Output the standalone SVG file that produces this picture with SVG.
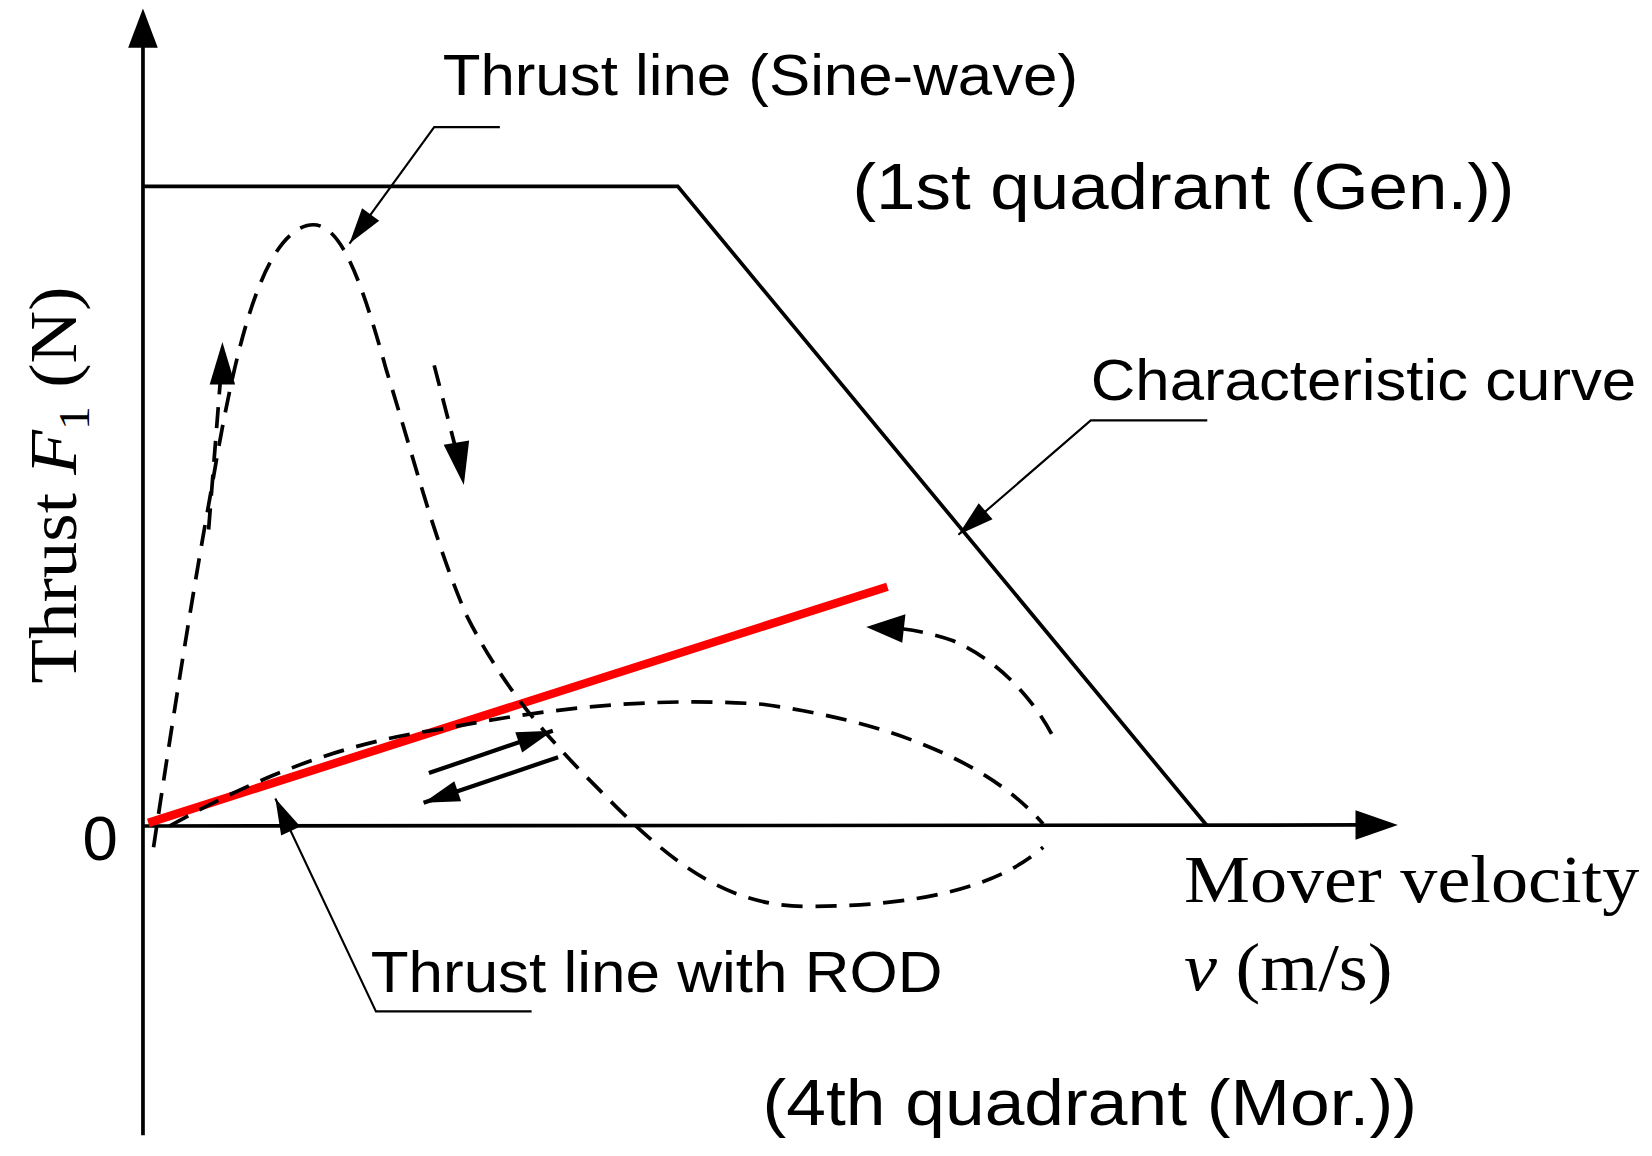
<svg xmlns="http://www.w3.org/2000/svg" width="1652" height="1156" viewBox="0 0 1652 1156">
<style>
.s{font-family:"Liberation Sans",Arial,sans-serif;fill:#000}
.r{font-family:"Liberation Serif","Times New Roman",serif;fill:#000}
.ln{fill:none;stroke:#000;stroke-width:3.5}
.th{fill:none;stroke:#000;stroke-width:2}
.sa{fill:none;stroke:#000;stroke-width:4}
.d{fill:none;stroke:#000;stroke-width:3.5;stroke-dasharray:20 12}
</style>
<defs>
<marker id="b" markerWidth="40" markerHeight="30" refX="34" refY="10" markerUnits="userSpaceOnUse" orient="auto" overflow="visible"><path d="M0,0L34,10L0,20z" fill="#000"/></marker>
</defs>
<rect width="1652" height="1156" fill="#fff"/>
<g transform="scale(1.059)">
<g id="axes">
<line class="ln" x1="135" y1="1072" x2="135" y2="40"/>
<path d="M135,8L121,45L149,45z"/>
<line class="ln" x1="135" y1="780" x2="1285" y2="779"/>
<path d="M1320,779L1280,765L1280,793z"/>
</g>
<g id="curves">
<path class="ln" d="M135,176L640,176L1140,780"/>
<line x1="140" y1="777" x2="838" y2="554" stroke="#f00" stroke-width="8"/>
<path class="d" d="M145,800C160,700 180,570 200,460C220,340 245,225 290,213C320,205 340,260 365,350C390,430 410,510 440,580C480,660 530,710 580,760C640,820 690,855 760,856C860,856 940,840 985,800"/>
<path class="d" d="M160,780C250,730 330,700 420,688C520,668 620,658 720,665C830,680 930,715 985,778"/>
<path class="d" d="M993,693C975,660 945,625 900,605C880,598 860,594 835,592"/>
<path d="M818,592L855,580L852,607z"/>
<path class="d" d="M197,500L208,360"/>
<path d="M210,323L198,363L222,363z"/>
<path class="d" d="M410,345L432,430"/>
<path d="M438,458L419,420L443,416z"/>
<line class="sa" x1="405" y1="730" x2="522" y2="690" marker-end="url(#b)"/>
<line class="sa" x1="527" y1="715" x2="400" y2="758" marker-end="url(#b)"/>
</g>
<g id="leaders">
<path class="th" d="M472,120L410,120L330,230" marker-end="url(#b)"/>
<path class="th" d="M1140,397L1030,397L905,505" marker-end="url(#b)"/>
<path class="th" d="M502,955L355,955L260,754" marker-end="url(#b)"/>
</g>
<g id="labels">
<text class="s" x="418" y="90" font-size="54" textLength="600" lengthAdjust="spacingAndGlyphs">Thrust line (Sine-wave)</text>
<text class="s" x="805" y="197" font-size="62" textLength="625" lengthAdjust="spacingAndGlyphs">(1st quadrant (Gen.))</text>
<text class="s" x="1030" y="378" font-size="54" textLength="515" lengthAdjust="spacingAndGlyphs">Characteristic curve</text>
<text class="s" x="350" y="937" font-size="54" textLength="540" lengthAdjust="spacingAndGlyphs">Thrust line with ROD</text>
<text class="s" x="720" y="1062" font-size="62" textLength="618" lengthAdjust="spacingAndGlyphs">(4th quadrant (Mor.))</text>
<text class="s" x="78" y="812" font-size="60">0</text>
<text class="r" x="1118" y="852" font-size="64" textLength="430" lengthAdjust="spacingAndGlyphs">Mover velocity</text>
<text class="r" x="1118" y="935" font-size="64" textLength="197" lengthAdjust="spacingAndGlyphs"><tspan font-style="italic">v</tspan> (m/s)</text>
<text class="r" transform="translate(72,458) rotate(-90)" text-anchor="middle" font-size="64" textLength="375" lengthAdjust="spacingAndGlyphs">Thrust <tspan font-style="italic">F</tspan><tspan font-size="42" dy="12">1</tspan><tspan dy="-12"> (N)</tspan></text>
</g>
</g>
</svg>
